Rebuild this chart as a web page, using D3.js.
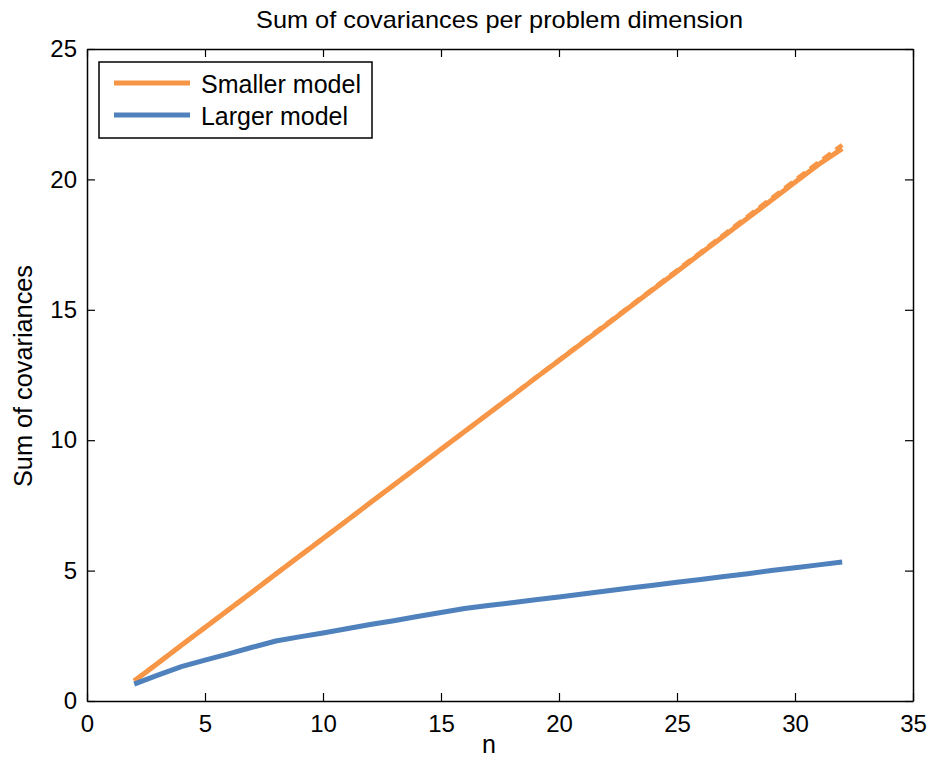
<!DOCTYPE html>
<html>
<head>
<meta charset="utf-8">
<script src="https://cdn.jsdelivr.net/npm/d3@7"></script>
<style>
  body { margin: 0; background: #fff; }
  text { font-family: "Liberation Sans", Arial, sans-serif; fill: #000; }
</style>
</head>
<body>
<svg id="chart" width="934" height="767"></svg>
<script>
const nValues = [2,3,4,5,6,7,8,9,10,11,12,13,14,15,16,17,18,19,20,21,22,23,24,25,26,27,28,29,30,31,32];
const smallerModel = [0.77,1.45,2.14,2.82,3.50,4.18,4.87,5.55,6.23,6.91,7.60,8.28,8.96,9.65,10.33,11.01,11.69,12.38,13.06,13.74,14.42,15.11,15.79,16.47,17.16,17.84,18.52,19.20,19.89,20.57,21.18];
const smallerModelAlt = [0.77,1.45,2.14,2.82,3.50,4.18,4.87,5.55,6.23,6.91,7.60,8.28,8.96,9.65,10.33,11.01,11.70,12.39,13.07,13.76,14.45,15.13,15.82,16.51,17.20,17.89,18.58,19.27,19.96,20.65,21.32];
const largerModel = [0.65,0.99,1.32,1.57,1.81,2.06,2.30,2.46,2.61,2.77,2.93,3.08,3.24,3.39,3.55,3.66,3.77,3.88,3.99,4.10,4.22,4.33,4.44,4.55,4.66,4.77,4.88,5.00,5.11,5.22,5.33];
const xTicks = [0,5,10,15,20,25,30,35];
const yTicks = [0,5,10,15,20,25];
const seriesNames = ["Smaller model", "Larger model"];
const seriesColors = ["#F79646", "#4F81BD"];

const W = 934, H = 767;
const m = {left: 87, right: 21, top: 49, bottom: 66};
const svg = d3.select("#chart");
const x = d3.scaleLinear().domain([0, 35]).range([m.left, W - m.right]);
const y = d3.scaleLinear().domain([0, 25]).range([H - m.bottom, m.top]);

// axes box
const g = svg.append("g");
const tickLen = 8;
g.append("g").attr("transform", `translate(0,${y(0)})`)
  .call(d3.axisBottom(x).tickValues(xTicks).tickSizeInner(-tickLen).tickSizeOuter(0).tickPadding(14))
  .call(s => s.selectAll("text").style("font-size", "24px"));
g.append("g").attr("transform", `translate(0,${y(25)})`)
  .call(d3.axisTop(x).tickValues(xTicks).tickSizeInner(-tickLen).tickSizeOuter(0).tickFormat(""));
g.append("g").attr("transform", `translate(${x(0)},0)`)
  .call(d3.axisLeft(y).tickValues(yTicks).tickSizeInner(-tickLen).tickSizeOuter(0).tickPadding(10))
  .call(s => s.selectAll("text").style("font-size", "24px"));
g.append("g").attr("transform", `translate(${x(35)},0)`)
  .call(d3.axisRight(y).tickValues(yTicks).tickSizeInner(-tickLen).tickSizeOuter(0).tickFormat(""));
g.selectAll(".domain").attr("stroke", "#000").attr("stroke-width", 1.5);
g.selectAll(".tick line").attr("stroke", "#000").attr("stroke-width", 1.2);
g.selectAll("text").attr("font-family", "Liberation Sans, Arial, sans-serif");

// lines
const line = d3.line().x((d, i) => x(nValues[i])).y(d => y(d));
svg.append("path").datum(smallerModelAlt).attr("d", line)
  .attr("fill", "none").attr("stroke", seriesColors[0]).attr("stroke-width", 4.5)
  .attr("stroke-dasharray", "10,6");
svg.append("path").datum(smallerModel).attr("d", line)
  .attr("fill", "none").attr("stroke", seriesColors[0]).attr("stroke-width", 5);
svg.append("path").datum(largerModel).attr("d", line)
  .attr("fill", "none").attr("stroke", seriesColors[1]).attr("stroke-width", 5);

// title and labels
svg.append("text").attr("x", 499.5).attr("y", 28).attr("text-anchor", "middle")
  .style("font-size", "24px").attr("textLength", 487).attr("lengthAdjust", "spacingAndGlyphs")
  .text("Sum of covariances per problem dimension");
svg.append("text").attr("x", 489).attr("y", 753).attr("text-anchor", "middle")
  .style("font-size", "25px").text("n");
svg.append("text").attr("transform", `translate(32,376) rotate(-90)`)
  .attr("text-anchor", "middle").style("font-size", "25px")
  .attr("textLength", 222).attr("lengthAdjust", "spacingAndGlyphs").text("Sum of covariances");

// legend
const lg = svg.append("g");
lg.append("rect").attr("x", 99).attr("y", 62).attr("width", 273).attr("height", 76)
  .attr("fill", "#fff").attr("stroke", "#000").attr("stroke-width", 1.5);
const legendWidths = [160, 147];
seriesNames.forEach((name, i) => {
  const yy = 83 + i * 32;
  lg.append("line").attr("x1", 114).attr("x2", 190).attr("y1", yy).attr("y2", yy)
    .attr("stroke", seriesColors[i]).attr("stroke-width", 5);
  lg.append("text").attr("x", 201).attr("y", yy + 10).style("font-size", "25px")
    .attr("textLength", legendWidths[i]).attr("lengthAdjust", "spacingAndGlyphs").text(name);
});
</script>
</body>
</html>
